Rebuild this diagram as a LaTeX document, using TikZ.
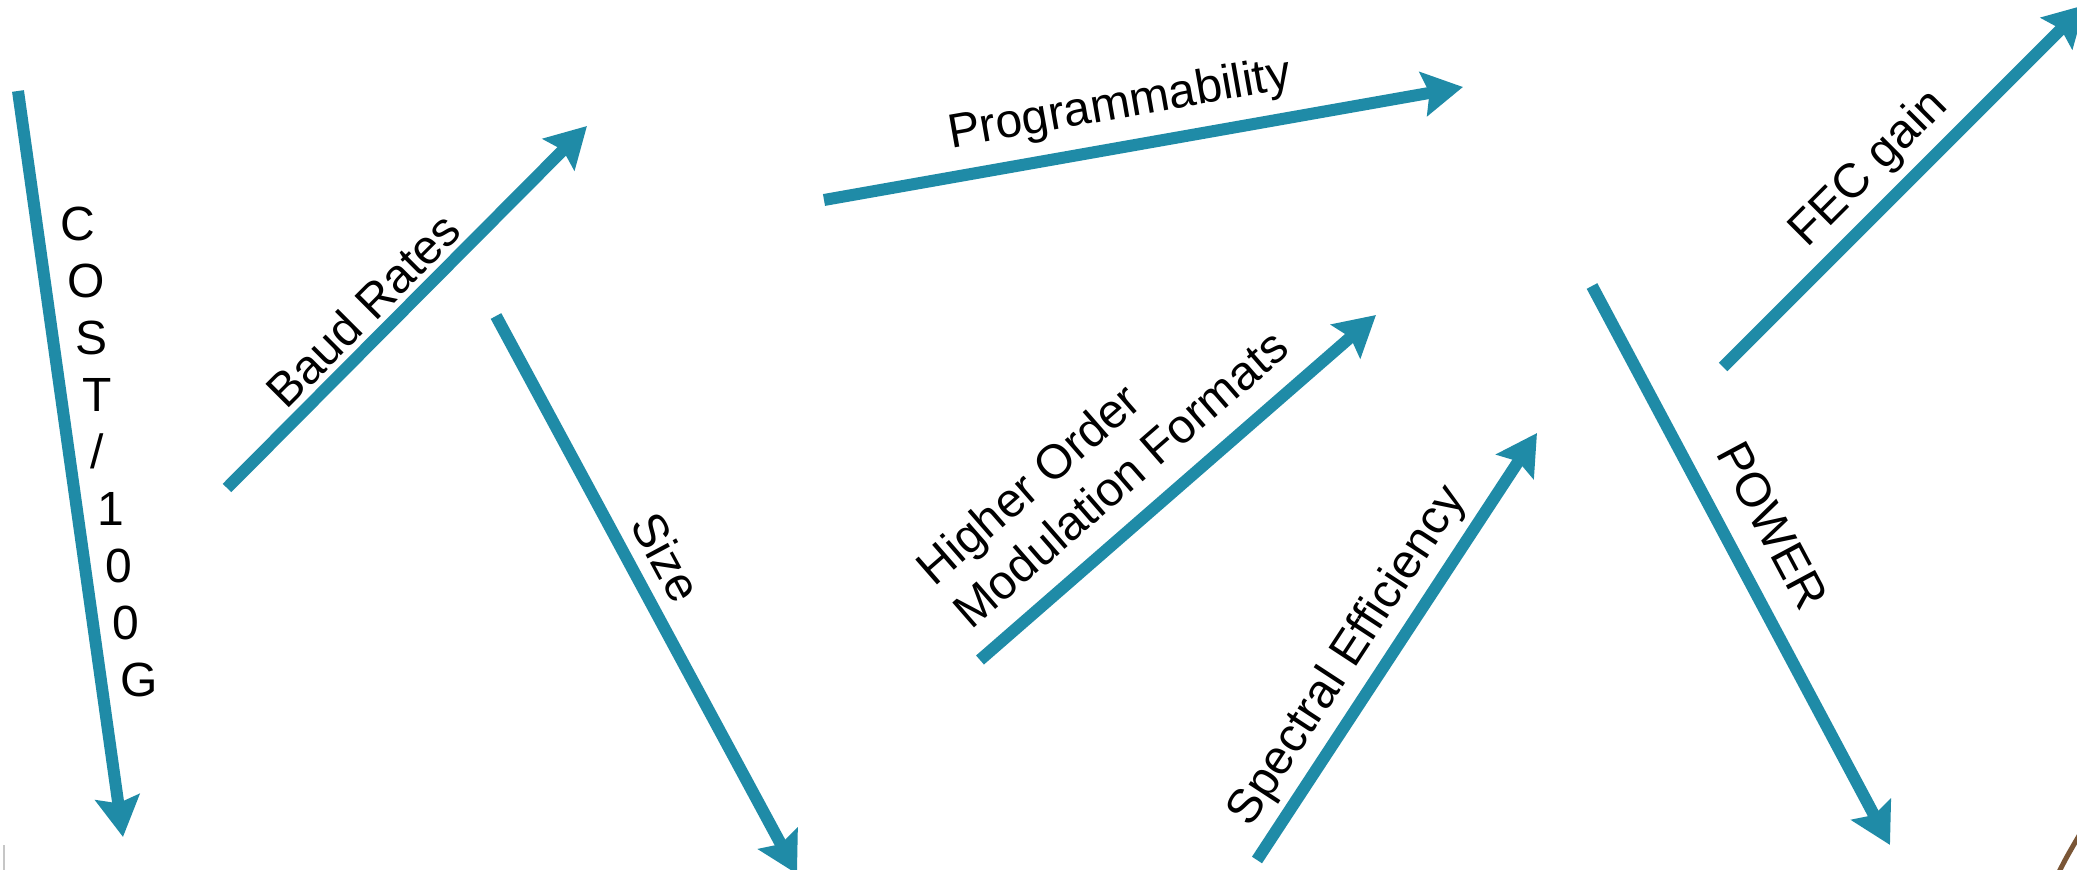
\documentclass[tikz,border=0pt]{standalone}
\usepackage{fontspec}
\setmainfont{Liberation Sans}
\usetikzlibrary{arrows.meta}
\definecolor{flow}{RGB}{31,139,167}
\definecolor{rim}{RGB}{122,86,54}
\tikzset{
  trend/.style={draw=flow, line width=6pt,
    -{Stealth[length=20pt,width=22pt,inset=3pt]}},
  tag/.style={font=\fontsize{24}{28}\selectfont, inner sep=0pt,
    text height=17.2pt, text depth=0pt},
}
\begin{document}
\begin{tikzpicture}[x=0.5pt,y=-0.5pt]
\clip (0,0) rectangle (2077,870);
\fill[white] (0,0) rectangle (2077,870);

% end points of the trend arrows
\coordinate (costA) at (18,91);     \coordinate (costB) at (123,837);
\coordinate (baudA) at (227,488);   \coordinate (baudB) at (587,126);
\coordinate (sizeA) at (496,316);   \coordinate (sizeB) at (797,874);
\coordinate (progA) at (824,200);   \coordinate (progB) at (1463,87);
\coordinate (hoA)   at (980,660);   \coordinate (hoB)   at (1376,315);
\coordinate (seA)   at (1257,860);  \coordinate (seB)   at (1537,433);
\coordinate (powA)  at (1592,286);  \coordinate (powB)  at (1890,845);
\coordinate (fecA)  at (1723,367);  \coordinate (fecB)  at (2085,5);

\draw[trend] (costA) -- (costB);
\draw[trend] (baudA) -- (baudB);
\draw[trend] (sizeA) -- (sizeB);
\draw[trend] (progA) -- (progB);
\draw[trend] (hoA) -- (hoB);
\draw[trend] (seA) -- (seB);
\draw[trend] (powA) -- (powB);
\draw[trend] (fecA) -- (fecB);

% labels
\foreach \ch [count=\i from 0] in {C,O,S,T,/,1,0,0,G}
  \node[tag, anchor=base west] (cost\i) at ({60+7.45*\i},{240.2+57.1*\i}) {\ch};
\node[tag, rotate=45] (baud) at (363,310) {Baud Rates};
\node[tag, rotate=-61.7] (size) at (667,557) {Size};
\node[tag, rotate=10] (prog) at (1119,101) {Programmability};
\node[tag, rotate=41.06, anchor=west] (hoTop) at (923,575) {Higher Order};
\node[tag, rotate=41.06, anchor=west] (hoBot) at (960,618) {Modulation Formats};
\node[tag, rotate=56.8] (spec) at (1344,654) {Spectral Efficiency};
\node[tag, rotate=-61.9] (power) at (1773,525) {POWER};
\node[tag, rotate=45] (fec) at (1866,166) {FEC gain};

% edge details
\draw[gray!45, line width=1pt] (4,845) -- (4,872);
\draw[rim, line width=2.5pt] (2058,874) .. controls (2066,858) .. (2080,834);
\end{tikzpicture}
\end{document}
